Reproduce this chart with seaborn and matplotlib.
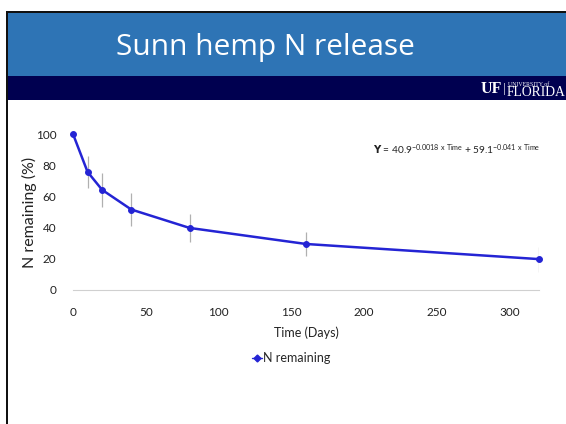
import numpy as np
import pandas as pd
import seaborn as sns
import matplotlib.pyplot as plt
from matplotlib.patches import Rectangle
from matplotlib.lines import Line2D

days = [0, 10, 20, 40, 80, 160, 320]
n_remaining = [100, 75.7, 64.2, 51.6, 39.8, 29.5, 19.8]
n_err = [0, 10, 11, 10.5, 9, 8, 8]

x_ticks = [0, 50, 100, 150, 200, 250, 300]
y_ticks = [0, 20, 40, 60, 80, 100]

df = pd.DataFrame({'Time': days, 'N': n_remaining, 'err': n_err})

sns.set_theme(style="white")
plt.rcParams['font.family'] = ['Lato', 'DejaVu Sans']
plt.rcParams['mathtext.default'] = 'regular'

fig = plt.figure(figsize=(5.66, 4.24), dpi=100)
W, H = 566, 424

# slide frame and header bands
fig.patches.append(Rectangle((6 / W, 0), 2 / W, 1 - 11 / H, transform=fig.transFigure,
                             facecolor='#111111', edgecolor='none'))
fig.patches.append(Rectangle((6 / W, 1 - 13 / H), 1, 2 / H, transform=fig.transFigure,
                             facecolor='#111111', edgecolor='none'))
fig.patches.append(Rectangle((8 / W, 1 - 76 / H), 1, 63 / H, transform=fig.transFigure,
                             facecolor='#2E74B5', edgecolor='none'))
fig.patches.append(Rectangle((8 / W, 1 - 100 / H), 1, 24 / H, transform=fig.transFigure,
                             facecolor='#000050', edgecolor='none'))
fig.text(265 / W, 1 - 47 / H, 'Sunn hemp N release', color='white', fontsize=21.5,
         ha='center', va='center', family=['Open Sans', 'DejaVu Sans'])

# UF logo
fig.text(481 / W, 1 - 89 / H, 'UF', color='white', fontsize=11.5, fontweight='bold',
         family=['Liberation Serif'], ha='left', va='center')
fig.text(503 / W, 1 - 89 / H, '|', color='white', fontsize=9, family=['Liberation Serif'],
         ha='left', va='center')
fig.text(508 / W, 1 - 84 / H, 'UNIVERSITY of', color='white', fontsize=4.2,
         family=['Liberation Serif'], ha='left', va='center')
fig.text(507 / W, 1 - 93 / H, 'FLORIDA', color='white', fontsize=9.8,
         family=['Liberation Serif'], ha='left', va='center')

ax = fig.add_axes([73 / W, 1 - 290 / H, 466 / W, 156 / H])
line_color = '#2424D4'
ax.errorbar(df['Time'], df['N'], yerr=df['err'], fmt='none', ecolor='#B0B0B0',
            elinewidth=0.9, capsize=0, zorder=1)
sns.lineplot(data=df, x='Time', y='N', ax=ax, color=line_color, linewidth=1.8,
             marker='o', markersize=4.2, markeredgecolor=line_color, zorder=3, clip_on=False)

ax.set_xlim(0, 320)
ax.set_ylim(0, 100)
ax.set_xticks(x_ticks)
ax.set_yticks(y_ticks)
ax.tick_params(axis='both', labelsize=8.5, length=0, colors='#222222')
ax.tick_params(axis='x', pad=12)
ax.tick_params(axis='y', pad=12)
for s in ['top', 'right', 'left']:
    ax.spines[s].set_visible(False)
ax.spines['bottom'].set_color('#D0D0D0')
ax.spines['bottom'].set_linewidth(0.8)
ax.set_xlabel('Time (Days)', fontsize=9, labelpad=6, color='#222222')
ax.set_ylabel('N remaining (%)', fontsize=11.5, color='#222222')
ax.yaxis.set_label_coords(-0.077, 0.5)

fig.text(373 / W, 1 - 154 / H,
         r'$\mathbf{Y}$ = 40.9$^{-0.0018\ x\ Time}$ + 59.1$^{-0.041\ x\ Time}$',
         fontsize=7.3, ha='left', va='baseline', color='#222222')

handle = Line2D([], [], color=line_color, marker='D', markersize=3.5, linestyle='-',
                linewidth=1)
fig.legend([handle], ['N remaining'], loc='center', bbox_to_anchor=(291 / W, 1 - 358 / H),
           frameon=False, fontsize=9, handlelength=0.8, handletextpad=0.1)

fig.savefig('out.png', dpi=100)
